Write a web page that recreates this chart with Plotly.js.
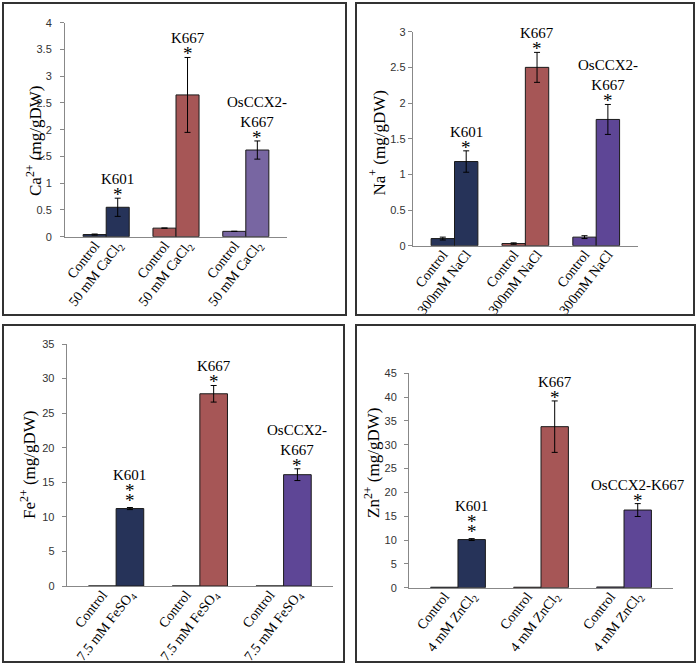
<!DOCTYPE html>
<html>
<head>
<meta charset="utf-8">
<script src="https://cdn.plot.ly/plotly-3.0.1.min.js"></script>
<style>html,body{margin:0;padding:0;background:#fff;}#chart{width:697px;height:664px;}</style>
</head>
<body>
<div id="chart"></div>
<script>
// ---------- data ----------
const groups = ["K601", "K667", "OsCCX2-K667"];
const groupColors = ["#263359", "#A65656", "#5E4696"];
const caGroupColors = ["#263359", "#A65656", "#7866A2"];

const caControl = [0.04, 0.16, 0.10];
const caControlErr = [0.01, 0, 0];
const caTreat = [0.55, 2.65, 1.62];
const caTreatErr = [0.17, 0.70, 0.17];
const caTickText = ["Control", "50 mM CaCl<sub>2</sub>"];
const caLabels = ["K601", "K667", "OsCCX2-<br>K667"];
const caStars = [1, 1, 1];

const naControl = [0.10, 0.03, 0.12];
const naControlErr = [0.02, 0.01, 0.02];
const naTreat = [1.18, 2.50, 1.77];
const naTreatErr = [0.15, 0.21, 0.21];
const naTickText = ["Control", "300mM NaCl"];
const naLabels = ["K601", "K667", "OsCCX2-<br>K667"];
const naStars = [1, 1, 1];

const feControl = [0, 0, 0];
const feControlErr = [0, 0, 0];
const feTreat = [11.2, 27.8, 16.1];
const feTreatErr = [0.15, 1.2, 0.85];
const feTickText = ["Control", "7.5 mM FeSO<sub>4</sub>"];
const feLabels = ["K601", "K667", "OsCCX2-<br>K667"];
const feStars = [2, 1, 1];

const znControl = [0.1, 0.1, 0.15];
const znControlErr = [0, 0, 0];
const znTreat = [10.1, 33.8, 16.3];
const znTreatErr = [0.2, 5.4, 1.35];
const znTickText = ["Control", "4 mM ZnCl<sub>2</sub>"];
const znLabels = ["K601", "K667", "OsCCX2-K667"];
const znStars = [2, 1, 1];

// ---------- layout geometry (pixels) ----------
const W = 697, H = 664;
const BAR_HALF = 0.165;
const panels = [
  {ax: "", ctrl: caControl, ctrlErr: caControlErr, trt: caTreat, trtErr: caTreatErr, ticks: caTickText, labels: caLabels, stars: caStars, colors: caGroupColors,
   title: "Ca<sup>2+</sup> (mg/gDW)", titlePos: [34, 141], yr: [0, 4], dtick: 0.5, px: [65, 287], py: [22.7, 236.7], box: [3, 3, 346, 315], showCtrlErr: true, lblStandoff: 6},
  {ax: "2", ctrl: naControl, ctrlErr: naControlErr, trt: naTreat, trtErr: naTreatErr, ticks: naTickText, labels: naLabels, stars: naStars, colors: groupColors,
   title: "Na<sup>+</sup> (mg/gDW)", titlePos: [377, 143.5], yr: [0, 3], dtick: 0.5, px: [412.7, 638], py: [31.7, 245.7], box: [356, 3, 694, 315], showCtrlErr: true, lblStandoff: 0},
  {ax: "3", ctrl: feControl, ctrlErr: feControlErr, trt: feTreat, trtErr: feTreatErr, ticks: feTickText, labels: feLabels, stars: feStars, colors: groupColors,
   title: "Fe<sup>2+</sup> (mg/gDW)", titlePos: [28, 464], yr: [0, 35], dtick: 5, px: [66.7, 333], py: [344, 586], box: [3, 325, 344, 662], showCtrlErr: false, lblStandoff: 5},
  {ax: "4", ctrl: znControl, ctrlErr: znControlErr, trt: znTreat, trtErr: znTreatErr, ticks: znTickText, labels: znLabels, stars: znStars, colors: groupColors,
   title: "Zn<sup>2+</sup> (mg/gDW)", titlePos: [372, 463], yr: [0, 45], dtick: 5, px: [409, 673], py: [373.3, 587.7], box: [356, 325, 695, 662], showCtrlErr: false, lblStandoff: 5}
];

const serif = '"Liberation Serif", "Times New Roman", serif';
const sans = '"Liberation Sans", Arial, sans-serif';
const traces = [];
const annotations = [];
const shapes = [];
const layout = {
  width: W, height: H,
  margin: {l: 0, r: 0, t: 0, b: 0},
  paper_bgcolor: "#fff", plot_bgcolor: "#fff",
  showlegend: false,
  barmode: "group",
  bargap: 0.34,
  bargroupgap: 0
};

const idx = groups.map((g, i) => i);

panels.forEach(p => {
  const xa = "x" + p.ax, ya = "y" + p.ax;
  const errStyle = {type: "data", color: "#000", thickness: 1, width: 3};
  traces.push({
    type: "bar", x: idx, y: p.ctrl, xaxis: xa, yaxis: ya, name: "Control",
    marker: {color: p.colors, line: {color: "#1a1a1a", width: 1}},
    error_y: Object.assign({array: p.ctrlErr, visible: p.showCtrlErr}, errStyle),
    hoverinfo: "skip"
  });
  traces.push({
    type: "bar", x: idx, y: p.trt, xaxis: xa, yaxis: ya, name: "Treatment",
    marker: {color: p.colors, line: {color: "#1a1a1a", width: 1}},
    error_y: Object.assign({array: p.trtErr, visible: true}, errStyle),
    hoverinfo: "skip"
  });

  const tickvals = [], ticktext = [];
  idx.forEach(i => { tickvals.push(i - BAR_HALF, i + BAR_HALF); ticktext.push(p.ticks[0], p.ticks[1]); });

  layout["xaxis" + p.ax] = {
    domain: [p.px[0] / W, p.px[1] / W],
    anchor: ya, range: [-0.59, 2.59],
    tickmode: "array", tickvals: tickvals, ticktext: ticktext,
    tickangle: -52, ticks: "", ticklabelstandoff: -6,
    showline: true, linecolor: "#888", linewidth: 1,
    showgrid: false, zeroline: false, fixedrange: true,
    tickfont: {family: serif, size: 14, color: "#000"}
  };
  layout["yaxis" + p.ax] = {
    domain: [1 - p.py[1] / H, 1 - p.py[0] / H],
    anchor: xa, range: p.yr, dtick: p.dtick,
    showline: true, linecolor: "#888", linewidth: 1,
    ticks: "outside", ticklen: 4, tickcolor: "#888",
    ticklabelstandoff: p.lblStandoff,
    showgrid: false, zeroline: false,
    tickfont: {family: sans, size: 11, color: "#333"}
  };

  // y-axis title
  annotations.push({
    xref: "paper", yref: "paper", x: p.titlePos[0] / W, y: 1 - p.titlePos[1] / H,
    text: p.title, textangle: -90, showarrow: false,
    xanchor: "center", yanchor: "middle",
    font: {family: serif, size: 17, color: "#000"}
  });

  idx.forEach(i => {
    const top = p.trt[i] + p.trtErr[i];
    const n = p.stars[i];
    for (let k = 0; k < n; k++) {
      annotations.push({
        xref: xa, yref: ya, x: i + BAR_HALF, y: top,
        text: "*", showarrow: false, yanchor: "bottom",
        yshift: -9 + (n === 2 ? 4 : 0) + k * 9.5,
        font: {family: serif, size: 19, color: "#000"}
      });
    }
    annotations.push({
      xref: xa, yref: ya, x: i + BAR_HALF, y: top,
      text: p.labels[i], showarrow: false, yanchor: "bottom",
      yshift: 9 + (n - 1) * 14,
      font: {family: serif, size: 15, color: "#000"}
    });
  });

  shapes.push({
    type: "rect", xref: "paper", yref: "paper",
    x0: p.box[0] / W, x1: p.box[2] / W, y0: 1 - p.box[3] / H, y1: 1 - p.box[1] / H,
    line: {color: "#333", width: 2}, fillcolor: "rgba(0,0,0,0)"
  });
});

layout.annotations = annotations;
layout.shapes = shapes;

Plotly.newPlot("chart", traces, layout, {displayModeBar: false, staticPlot: true});
</script>
</body>
</html>
